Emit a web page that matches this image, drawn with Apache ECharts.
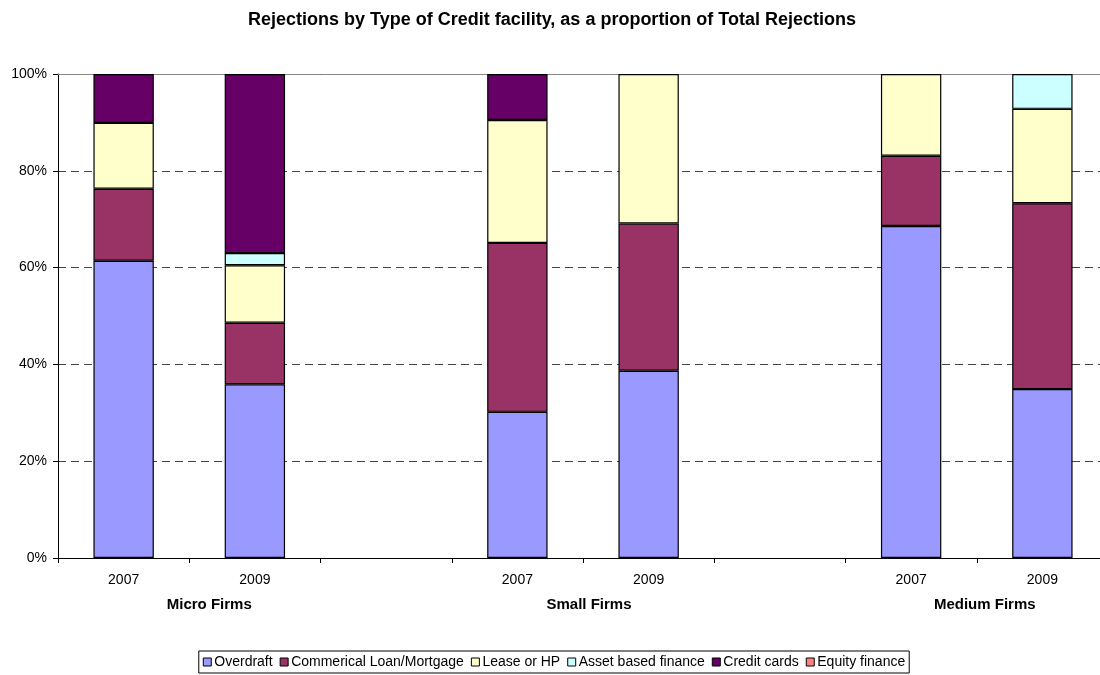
<!DOCTYPE html>
<html>
<head>
<meta charset="utf-8">
<script src="https://cdn.jsdelivr.net/npm/echarts@6/dist/echarts.min.js"></script>
<style>html,body{margin:0;padding:0;background:#fff;overflow:hidden}#c{width:1108px;height:675px}</style>
</head>
<body>
<div id="c"></div>
<script>
const categories = ['2007', '2009', '', '2007', '2009', '', '2007', '2009'];
const groups = ['Micro Firms', 'Small Firms', 'Medium Firms'];
const groupStart = [0, 3, 6];
const groupShift = [20, 6, 8];
const yTicks = [0, 20, 40, 60, 80, 100];

const overdraft  = [61.4, 35.9, null, 30.2, 38.7, null, 68.6, 34.9];
const commercial = [14.9, 12.7, null, 34.9, 30.4, null, 14.5, 38.4];
const lease      = [13.6, 11.9, null, 25.4, 30.9, null, 16.9, 19.5];
const asset      = [0,    2.5,  null, 0,    0,    null, 0,    7.2];
const credit     = [10.1, 37.0, null, 9.5,  0,    null, 0,    0];
const equity     = [0,    0,    null, 0,    0,    null, 0,    0];

const seriesNames = ['Overdraft', 'Commerical Loan/Mortgage', 'Lease or HP', 'Asset based finance', 'Credit cards', 'Equity finance'];
const seriesData = [overdraft, commercial, lease, asset, credit, equity];
const colors = ['#9999FF', '#993366', '#FFFFCC', '#CCFFFF', '#660066', '#FF8080'];

const font = 'Liberation Sans, Arial, sans-serif';
const chart = echarts.init(document.getElementById('c'));

const option = {
  animation: false,
  backgroundColor: '#fff',
  title: {
    text: 'Rejections by Type of Credit facility, as a proportion of Total Rejections',
    left: 547, top: 6, textAlign: 'center',
    textStyle: { fontFamily: font, fontSize: 18, fontWeight: 'bold', color: '#000' }
  },
  legend: {
    bottom: 2, left: 'center',
    data: seriesNames,
    icon: 'rect', itemWidth: 8, itemHeight: 8, itemGap: 7,
    borderColor: '#000', borderWidth: 1, padding: [4, 4],
    textStyle: { fontFamily: font, fontSize: 14, color: '#000', padding: [0, 0, 0, -2] },
    itemStyle: { borderColor: '#000', borderWidth: 1 }
  },
  grid: { left: 58, top: 74, bottom: 117, right: 0, containLabel: false },
  xAxis: [{
    type: 'category', data: categories, position: 'bottom',
    axisLine: { lineStyle: { color: '#000', width: 1 } },
    axisTick: { show: true, length: 5, lineStyle: { color: '#000' }, alignWithLabel: false },
    axisLabel: { fontFamily: font, fontSize: 14, color: '#000', margin: 15, interval: 0 },
    splitLine: { show: false }
  }, {
    type: 'category', data: categories, position: 'top',
    axisLine: { show: true, lineStyle: { color: '#888', width: 1 } },
    axisTick: { show: false }, axisLabel: { show: false }
  }],
  yAxis: {
    type: 'value', min: yTicks[0], max: yTicks[yTicks.length - 1], interval: 20,
    axisLine: { show: true, lineStyle: { color: '#000', width: 1 } },
    axisTick: { show: true, length: 5, lineStyle: { color: '#000' } },
    axisLabel: { fontFamily: font, fontSize: 14, color: '#000', margin: 11, formatter: '{value}%' },
    splitLine: { show: true, lineStyle: { color: '#444', type: [8, 5], width: 1 } }
  },
  series: seriesNames.map((n, i) => ({
    name: n, type: 'bar', stack: 'total', barWidth: '46%',
    data: seriesData[i].map(v => (v === null || v === 0) ? '-' : v),
    itemStyle: { color: colors[i], borderColor: '#000', borderWidth: 1.2 },
    emphasis: { disabled: true }
  }))
};
chart.setOption(option);

function placeGroups() {
  const gr = groups.map((g, i) => {
    const a = chart.convertToPixel({ xAxisIndex: 0 }, groupStart[i]);
    const b = chart.convertToPixel({ xAxisIndex: 0 }, groupStart[i] + 1);
    const y = chart.convertToPixel({ yAxisIndex: 0 }, 0);
    return {
      type: 'text', x: (a + b) / 2 + groupShift[i], y: y + 47,
      style: { text: g, fontFamily: font, fontSize: 15, fontWeight: 'bold', fill: '#000', align: 'center', verticalAlign: 'middle' }
    };
  });
  chart.setOption({ graphic: gr });
}
placeGroups();
</script>
</body>
</html>
